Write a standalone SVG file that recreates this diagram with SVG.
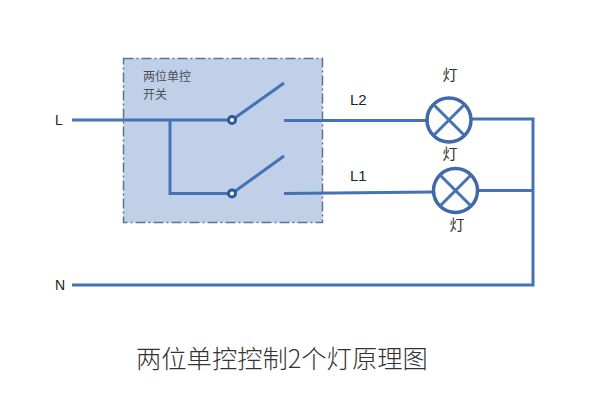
<svg xmlns="http://www.w3.org/2000/svg" width="600" height="400" viewBox="0 0 600 400">
<style>
.w{fill:none;stroke:#4472b4;stroke-width:3}
.t{font-family:"Liberation Sans","Noto Sans CJK SC",sans-serif;fill:#222}
.c{font-family:"Noto Sans CJK SC",sans-serif;fill:#333}
.lamp{fill:#fff;stroke:#3f69a8;stroke-width:3.500}
.x{fill:none;stroke:#4472b4;stroke-width:3}
.pivot{fill:#fff;stroke:#2f5a96;stroke-width:3}
</style>
<rect width="600" height="400" fill="#fff"/>
<g id="switch-box">
<rect x="123.500" y="58.500" width="199" height="164" fill="#c0d0e9" stroke="#5f7391" stroke-width="1.500" stroke-dasharray="10 3 2 3"/>
<text class="c" x="143" y="81" font-size="12" fill-opacity="0.85">两位单控</text>
<text class="c" x="143" y="99" font-size="12" fill-opacity="0.85">开关</text>
</g>
<g id="connectors">
<path class="w" d="M72 120H232"/>
<path class="w" d="M170 120V193.500H232"/>
<path class="w" d="M232 120L284 83"/>
<path class="w" d="M232 193.500L284 156"/>
<path class="w" d="M284 120.500H427"/>
<path class="w" d="M284 193.500L433 192"/>
<path class="w" d="M472 119H533V285H72"/>
<path class="w" d="M478 190.500H533"/>
</g>
<g id="pivot-top"><circle class="pivot" cx="232" cy="120" r="3.500"/></g>
<g id="pivot-bottom"><circle class="pivot" cx="232" cy="193.500" r="3.500"/></g>
<g id="lamp-top">
<circle class="lamp" cx="449" cy="120" r="22"/>
<path class="x" d="M433.500 104.500L464.500 135.500M464.500 104.500L433.500 135.500"/>
<text class="c" x="450" y="80" font-size="15" text-anchor="middle">灯</text>
</g>
<g id="lamp-bottom">
<circle class="lamp" cx="455.500" cy="190.500" r="22"/>
<path class="x" d="M440 175L471 206M471 175L440 206"/>
<text class="c" x="450" y="159" font-size="15" text-anchor="middle">灯</text>
<text class="c" x="457" y="230" font-size="15" text-anchor="middle">灯</text>
</g>
<g id="labels">
<text class="t" x="55" y="124.500" font-size="14">L</text>
<text class="t" x="55" y="289.500" font-size="14">N</text>
<text class="t" x="350" y="105" font-size="15">L2</text>
<text class="t" x="350" y="181" font-size="15">L1</text>
<text class="c" x="136" y="368" font-size="25.300" font-weight="300" fill="#444">两位单控控制2个灯原理图</text>
</g>
</svg>
